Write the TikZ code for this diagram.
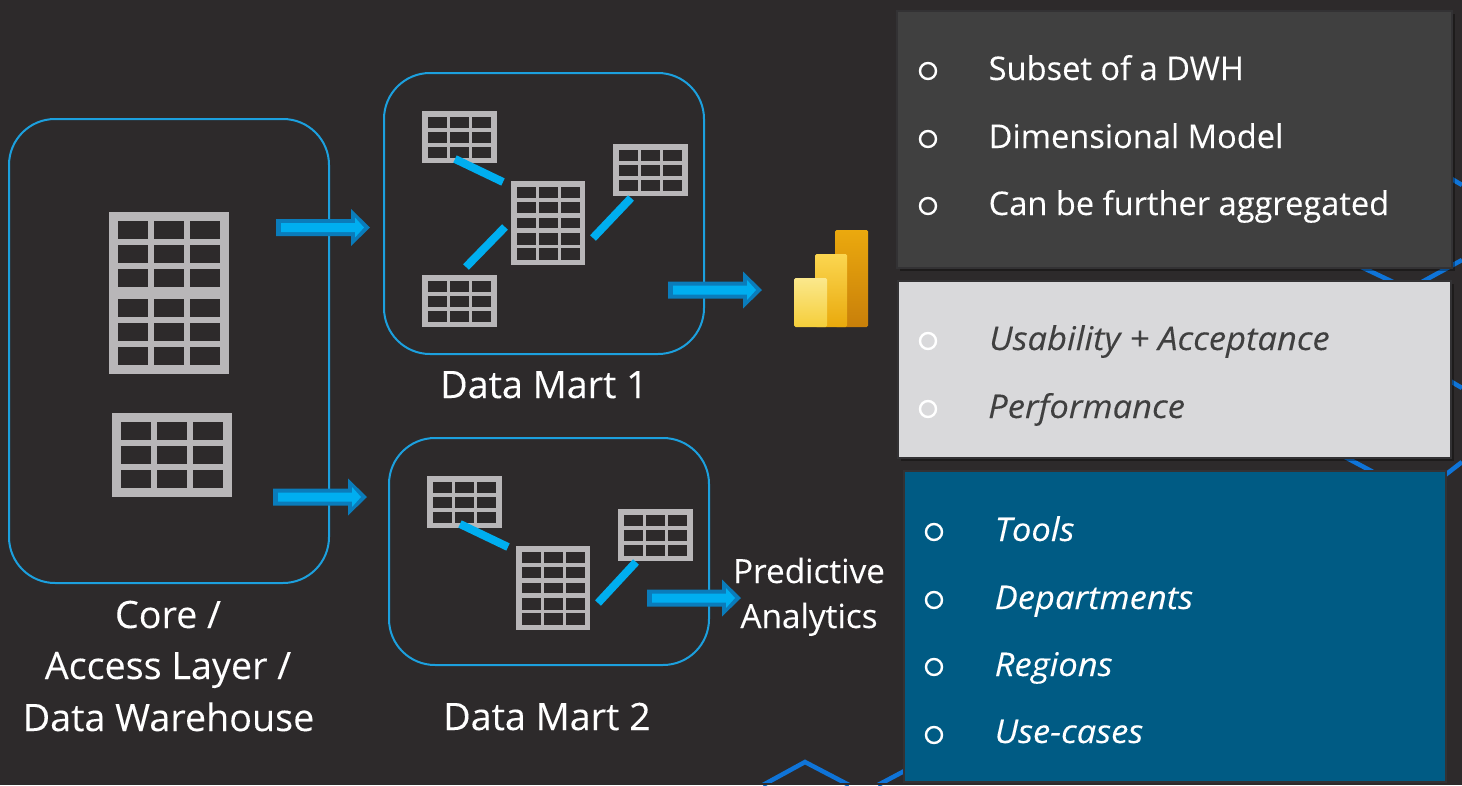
\documentclass[tikz,border=0pt]{standalone}
\usepackage{fontspec}
\setmainfont{Open Sans}[ItalicFeatures={FakeStretch=1.06},FakeBold=0.12]
\usetikzlibrary{calc}
\definecolor{bgc}{HTML}{2D2A2B}
\definecolor{gridc}{HTML}{B8B6B8}
\definecolor{boxc}{HTML}{1CA0DE}
\definecolor{linkc}{HTML}{00AEEF}
\definecolor{arrowout}{HTML}{0A7CBB}
\definecolor{arrowin}{HTML}{00AEF0}
\definecolor{hexc}{HTML}{0F74D8}
\definecolor{panelA}{HTML}{404040}
\definecolor{panelB}{HTML}{D9D9DB}
\definecolor{panelC}{HTML}{005B84}
\definecolor{panelEdge}{HTML}{333234}
\definecolor{textB}{HTML}{404040}
\definecolor{pbA}{HTML}{FBE88C}
\definecolor{pbB}{HTML}{F5CE3A}
\definecolor{pbC}{HTML}{FBD650}
\definecolor{pbD}{HTML}{E9A90C}
\definecolor{pbE}{HTML}{EBA90E}
\definecolor{pbF}{HTML}{C87F0A}
\tikzset{
  x=1pt,y=-1pt,
  layerbox/.style={draw=boxc,line width=2pt,rounded corners=46pt},
  linkline/.style={draw=linkc,line width=8pt},
  hexline/.style={draw=hexc,line width=4.5pt},
  panel/.style={fill=#1,draw=panelEdge,line width=2pt},
  bigtext/.style={font=\fontsize{37.7}{37.7}\selectfont,text=white,anchor=base,inner sep=0pt},
  midtext/.style={font=\fontsize{33.3}{33.3}\selectfont,text=white,anchor=base,inner sep=0pt},
  itemA/.style={font=\fontsize{32.6}{32.6}\selectfont,text=white,anchor=base west,inner sep=0pt},
  itemB/.style={font=\fontsize{32.6}{32.6}\selectfont\itshape,text=textB,anchor=base west,inner sep=0pt},
  itemC/.style={font=\fontsize{32.6}{32.6}\selectfont\itshape,text=white,anchor=base west,inner sep=0pt},
  bulletmark/.style={circle,draw=#1,line width=2.4pt,minimum size=16pt,inner sep=0pt},
}
\newcommand{\smalltable}[3]{%
  \coordinate (#3) at (#1,#2);
  \begin{scope}[shift={(#1,#2)}]
    \fill[gridc] (0,0) rectangle (75,52);
    \foreach \cx in {6,28,50}\foreach \cy in {6,21,36}
      \fill[bgc] (\cx,\cy) rectangle ++(19,11);
  \end{scope}}
\newcommand{\centertable}[3]{%
  \coordinate (#3) at (#1,#2);
  \begin{scope}[shift={(#1,#2)}]
    \fill[gridc] (0,0) rectangle (74,84);
    \foreach \cx in {6,28,50}{
      \fill[bgc] (\cx,6) rectangle ++(18.5,11);
      \fill[bgc] (\cx,21) rectangle ++(18.5,11);
      \fill[bgc] (\cx,37) rectangle ++(18.5,10);
      \fill[bgc] (\cx,52) rectangle ++(18.5,12);
      \fill[bgc] (\cx,67) rectangle ++(18.5,12);
    }
  \end{scope}}
\newcommand{\blockarrow}[3]{%
  \coordinate (#3) at (#1,#2);
  \begin{scope}[shift={(#1,#2)}]
    \fill[arrowout] (0,-8.5) -- (75,-8.5) -- (75,-18.5) -- (94,0) -- (75,18.5) -- (75,8.5) -- (0,8.5) -- cycle;
    \fill[arrowin] (5,-4.5) -- (79,-4.5) -- (79,-10) -- (88,0) -- (79,10) -- (79,4.5) -- (5,4.5) -- cycle;
  \end{scope}}
\begin{document}
\begin{tikzpicture}
\useasboundingbox (0,0) rectangle (1462,785);
\fill[bgc] (0,0) rectangle (1462,785);

% background hexagon lines
\draw[hexline] (1440,172) -- (1462,185);
\draw[hexline] (1355,264) -- (1393,282);
\draw[hexline] (1420,283) -- (1462,260);
\draw[hexline] (1440,375) -- (1462,388);
\draw[hexline] (1345,457) -- (1375,473);
\draw[hexline] (1440,479) -- (1462,462);
\draw[hexline] (763,785) -- (805,762) -- (849,785);
\draw[hexline] (878,785) -- (910,768);
\fill[bgc] (700,782.5) rectangle (1000,785);

% layer boxes
\draw[layerbox] (9,119) rectangle (329,583);
\draw[layerbox] (384,73) rectangle (704,354);
\draw[layerbox] (389,438) rectangle (709,665);

% core tables
\coordinate (coreA) at (109,212);
\begin{scope}[shift={(coreA)}]
  \fill[gridc] (0,0) rectangle (120,162);
  \foreach \cx in {9,45,81}\foreach \cy in {9,33,57,87,111,135}
    \fill[bgc] (\cx,\cy) rectangle ++(30,18);
\end{scope}
\coordinate (coreB) at (112,413);
\begin{scope}[shift={(coreB)}]
  \fill[gridc] (0,0) rectangle (120,84);
  \foreach \cx in {9,45,81}\foreach \cy in {9,33,57}
    \fill[bgc] (\cx,\cy) rectangle ++(30,18);
\end{scope}

% data mart 1
\smalltable{422}{111}{mA}
\smalltable{612.5}{143.5}{mB}
\smalltable{422}{275}{mC}
\centertable{511}{181}{mD}
\coordinate (l1a) at (455,159); \coordinate (l1b) at (503,182);
\coordinate (l2a) at (505,227); \coordinate (l2b) at (466,267);
\coordinate (l3a) at (631,198); \coordinate (l3b) at (593,238);
\draw[linkline] (l1a) -- (l1b);
\draw[linkline] (l2a) -- (l2b);
\draw[linkline] (l3a) -- (l3b);

% data mart 2
\smalltable{427}{476}{nA}
\smalltable{617.5}{508.5}{nB}
\centertable{516}{546}{nD}
\coordinate (k1a) at (460,524); \coordinate (k1b) at (508,547);
\coordinate (k3a) at (636,562); \coordinate (k3b) at (598,603);
\draw[linkline] (k1a) -- (k1b);
\draw[linkline] (k3a) -- (k3b);

% arrows
\blockarrow{276}{227.5}{aA}
\blockarrow{273}{497}{aB}
\blockarrow{668}{290}{aC}
\blockarrow{647}{598}{aD}

% Power BI icon
\shade[top color=pbE,bottom color=pbF,rounded corners=1.5pt] (835,230) rectangle (868,327);
\shade[shading angle=20,top color=pbC,bottom color=pbD,rounded corners=1.5pt] (815,254) rectangle (847,327);
\shade[shading angle=20,top color=pbA,bottom color=pbB,rounded corners=1.5pt] (794,278) rectangle (827,327);

% panels
\fill[black,opacity=.35] (900,14) rectangle (1455,271);
\draw[panel=panelA] (897,11) rectangle (1452,268);
\fill[black,opacity=.35] (901,284) rectangle (1454,461);
\draw[panel=panelB] (898,281) rectangle (1451,458);
\draw[panel=panelC] (904,471) rectangle (1446,782);

% labels
\node[bigtext] (tCoreA) at (168,628) {Core /};
\node[bigtext] (tCoreB) at (168,679) {Access Layer /};
\node[bigtext] (tCoreC) at (168.5,731) {Data Warehouse};
\node[bigtext] (tDmA) at (544,398) {Data Mart 1};
\node[bigtext] (tDmB) at (547,730) {Data Mart 2};
\node[midtext] (tPredA) at (809,583) {Predictive};
\node[midtext] (tPredB) at (809,628) {Analytics};

% panel 1
\node[bulletmark=white] (bA1) at (928,71) {};
\node[bulletmark=white] (bA2) at (928,139) {};
\node[bulletmark=white] (bA3) at (928,206) {};
\node[itemA] (iA1) at (988.5,80) {Subset of a DWH};
\node[itemA] (iA2) at (988.5,148) {Dimensional Model};
\node[itemA] (iA3) at (988.5,215) {Can be further aggregated};
% panel 2
\node[bulletmark=white] (bB1) at (928,341) {};
\node[bulletmark=white] (bB2) at (928,409) {};
\node[itemB] (iB1) at (989,350) {Usability + Acceptance};
\node[itemB] (iB2) at (988,418) {Performance};
% panel 3
\node[bulletmark=white] (bC1) at (934,532) {};
\node[bulletmark=white] (bC2) at (934,600) {};
\node[bulletmark=white] (bC3) at (934,667) {};
\node[bulletmark=white] (bC4) at (934,735) {};
\node[itemC] (iC1) at (994.5,541) {Tools};
\node[itemC] (iC2) at (994.5,609) {Departments};
\node[itemC] (iC3) at (994.5,676) {Regions};
\node[itemC] (iC4) at (994.5,743) {Use-cases};
\end{tikzpicture}
\end{document}
